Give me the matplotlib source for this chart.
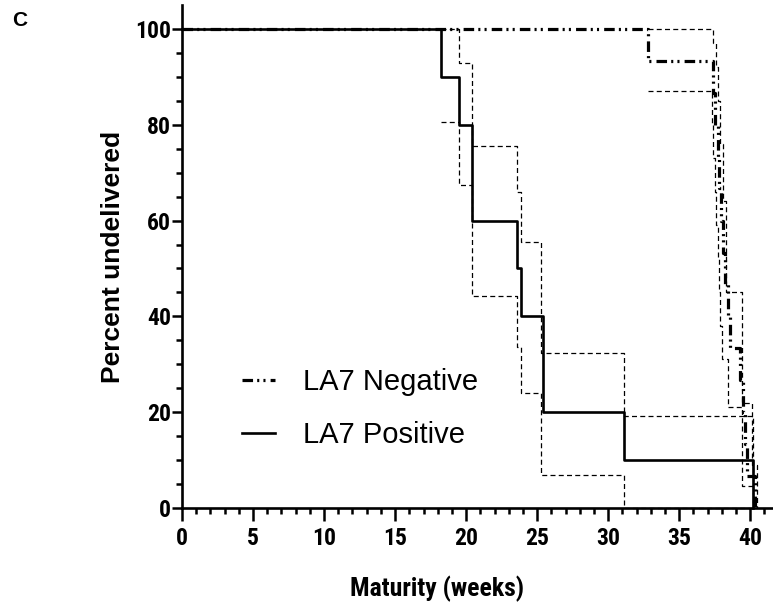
import matplotlib
matplotlib.use('Agg')
import matplotlib.pyplot as plt
from matplotlib.ticker import FixedLocator
from matplotlib.lines import Line2D

# ---- data (weeks, percent undelivered) ----
pos_t = [0, 18.2, 19.5, 20.4, 23.6, 23.85, 25.4, 31.1, 40.2]
pos_v = [100, 90, 80, 60, 50, 40, 20, 10, 0]

pos_up_t = [18.2, 19.5, 20.4, 23.6, 23.85, 25.3, 31.1, 40.2]
pos_up_v = [100, 92.9, 75.6, 65.9, 55.5, 32.4, 19.2, 0]

pos_lo_t = [18.2, 19.5, 20.4, 23.6, 23.85, 25.3, 31.1, 40.2]
pos_lo_v = [80.5, 67.5, 44.3, 33.7, 24.1, 6.9, 0, 0]

neg_t = [0, 32.8, 37.35, 37.55, 37.7, 37.8, 37.95, 38.05, 38.2, 38.4, 38.6,
         39.3, 39.5, 39.6, 39.8, 40.3]
neg_v = [100, 93.3, 86.7, 80, 73.3, 66.7, 60, 53.3, 46.7, 40, 33.3,
         26.7, 20, 13.3, 6.7, 0]

neg_up_t = [32.8, 37.4, 37.6, 37.75, 37.9, 38.05, 38.3, 39.4, 40.1, 40.5]
neg_up_v = [100, 97, 92, 85, 76, 64, 45, 22, 9, 0]

neg_lo_t = [32.8, 37.3, 37.4, 37.5, 37.6, 37.7, 37.8, 37.9, 38.0, 38.45, 39.4, 40.2]
neg_lo_v = [87, 80, 73, 66, 59, 52, 45, 38, 31, 21, 4.5, 0]

x_major = [0, 5, 10, 15, 20, 25, 30, 35, 40]
y_major = [0, 20, 40, 60, 80, 100]

labels = ['LA7 Negative', 'LA7 Positive']

NARROW = ['Roboto Condensed', 'DejaVu Sans']
SANS = ['Liberation Sans', 'DejaVu Sans']

W, H = 773, 608
fig = plt.figure(figsize=(W / 100, H / 100), dpi=100)
ax = fig.add_axes([182 / W, 1 - 508 / H, 1 - 182 / W, 503 / H])
ax.set_xlim(0, 41.6)
ax.set_ylim(0, 105)

ci_style = dict(color='black', lw=0.9, linestyle=(0, (4.0, 2.6)), where='post',
                clip_on=False)
ax.step(neg_up_t, neg_up_v, **ci_style)
ax.step(neg_lo_t, neg_lo_v, **ci_style)
ax.step(pos_up_t, pos_up_v, **ci_style)
ax.step(pos_lo_t, pos_lo_v, **ci_style)

negls = (0, (3.3, 1.3, 0.65, 1.3, 0.65, 1.6))
ax.step(neg_t, neg_v, where='post', color='black', lw=2.3, linestyle=negls,
        clip_on=False)
ax.step(pos_t, pos_v, where='post', color='black', lw=1.9, clip_on=False)

for s in ['top', 'right']:
    ax.spines[s].set_visible(False)
for s in ['left', 'bottom']:
    ax.spines[s].set_linewidth(1.9)

ax.xaxis.set_major_locator(FixedLocator(x_major))
ax.xaxis.set_minor_locator(FixedLocator([i for i in range(0, 42) if i % 5]))
ax.yaxis.set_major_locator(FixedLocator(y_major))
ax.yaxis.set_minor_locator(FixedLocator([i for i in range(5, 100, 5) if i % 20]))

ax.tick_params(axis='x', which='major', length=9, width=1.8, direction='out', pad=5)
ax.tick_params(axis='x', which='minor', length=4, width=1.8, direction='out')
ax.tick_params(axis='y', which='major', length=7, width=1.8, direction='out', pad=1)
ax.tick_params(axis='y', which='minor', length=4, width=1.8, direction='out')

ax.set_xticklabels([str(v) for v in x_major], family=NARROW, fontweight='bold', fontsize=17)
ax.set_yticklabels([str(v) for v in y_major], family=NARROW, fontweight='bold', fontsize=17)

ax.set_xlabel('Maturity (weeks)', family=NARROW, fontweight='bold', fontsize=18.5)
ax.xaxis.label.set_va('center')
ax.xaxis.set_label_coords((437 - 182) / 591, (508 - 589) / 503)
ax.set_ylabel('Percent undelivered', family=SANS, fontweight='bold', fontsize=19,
              labelpad=7)

handles = [Line2D([], [], color='black', lw=2.3, linestyle=negls),
           Line2D([], [], color='black', lw=1.9)]
leg = ax.legend(handles, labels, loc='upper left', bbox_to_anchor=(0.1015, 0.278),
                frameon=False, borderaxespad=0, borderpad=0,
                handlelength=1.14, handletextpad=0.95, labelspacing=0.85,
                prop={'family': SANS, 'size': 21})

fig.text(12 / W, 1 - 20 / H, 'C', family=SANS, fontweight='bold', fontsize=15,
         va='center', ha='left')

fig.savefig('out.png', dpi=100)
